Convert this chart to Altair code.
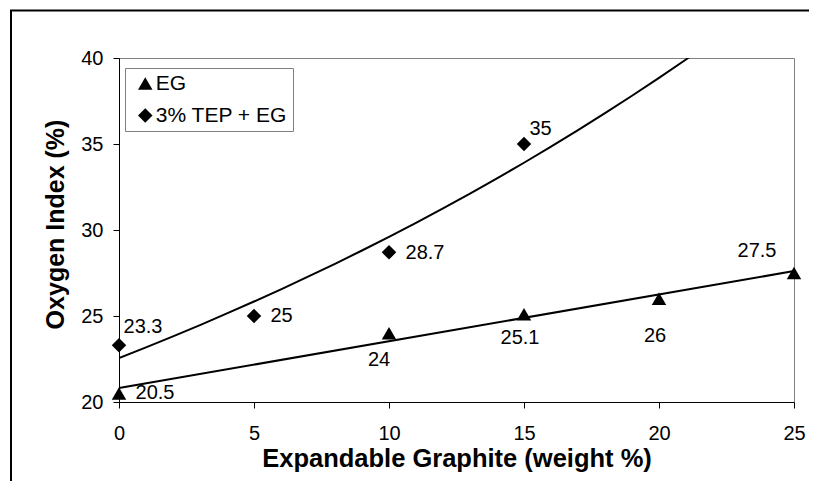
import altair as alt
import pandas as pd

# ---- data ----
SERIES = ["EG", "3% TEP + EG"]
EG_X = [0, 10, 15, 20, 25]
EG_Y = [20.5, 24, 25.1, 26, 27.5]
TEP_X = [0, 5, 10, 15]
TEP_Y = [23.3, 25, 28.7, 35]
X_TICKS = [0, 5, 10, 15, 20, 25]
Y_TICKS = [20, 25, 30, 35, 40]

# ---- label placement (pixel offsets, styling only) ----
EG_LABEL_DX = [36, -10, -4, -4, -37]
EG_LABEL_DY = [0, 27, 24, 37, -22]
TEP_LABEL_DX = [24, 27.5, 36, 16.5]
TEP_LABEL_DY = [-18, 0, 0.5, -15]

FONT = "Liberation Sans"

eg = pd.DataFrame({"x": EG_X, "y": EG_Y, "series": SERIES[0]})
tep = pd.DataFrame({"x": TEP_X, "y": TEP_Y, "series": SERIES[1]})
pts = pd.concat([eg, tep], ignore_index=True)

xscale = alt.Scale(domain=[0, 25], nice=False, zero=False)
yscale = alt.Scale(domain=[20, 40], nice=False, zero=False)

xaxis = alt.Axis(
    values=X_TICKS, title="Expandable Graphite (weight %)", grid=False,
    labelFontSize=20, labelPadding=15, tickSize=6, labelFlush=False, labelOverlap=False,
    titleFontSize=25.5, titleFontWeight="bold", titleBaseline="alphabetic", titleY=64,
    domainColor="black", tickColor="black", labelColor="black", titleColor="black",
)
yaxis = alt.Axis(
    values=Y_TICKS, title="Oxygen Index (%)", grid=False,
    labelFontSize=20, labelPadding=10, tickSize=6, labelFlush=False, labelOverlap=False,
    titleFontSize=25, titleFontWeight="bold", titleAngle=270, titleBaseline="alphabetic",
    titleAlign="center", titleX=-56, titleY=166,
    domainColor="black", tickColor="black", labelColor="black", titleColor="black",
)

X = alt.X("x:Q", scale=xscale, axis=xaxis)
Y = alt.Y("y:Q", scale=yscale, axis=yaxis)

frame = alt.Chart(pd.DataFrame({"a": [0]})).mark_rect(
    fillOpacity=0, stroke="black", strokeWidth=2
).encode(x=alt.value(-108), x2=alt.value(760), y=alt.value(-47.5), y2=alt.value(500))

# linear trend line for EG
eg_fit = alt.Chart(eg).transform_regression(
    "x", "y", extent=[0, 25]
).mark_line(color="black", strokeWidth=2).encode(x=X, y=Y)

# exponential trend line (least squares on log y) for TEP + EG
tep_fit = alt.Chart(tep).transform_calculate(
    ly="log(datum.y)"
).transform_regression(
    "x", "ly", method="poly", order=1, extent=[0, 25]
).transform_calculate(
    y="exp(datum.ly)"
).mark_line(color="black", strokeWidth=2, clip=True).encode(x=X, y=Y)

points = alt.Chart(pts).mark_point(
    filled=True, size=210, opacity=1, color="black"
).encode(
    x=X, y=Y,
    shape=alt.Shape(
        "series:N",
        scale=alt.Scale(domain=SERIES, range=["triangle-up", "diamond"]),
        legend=alt.Legend(title=None, symbolFillColor="black", symbolStrokeColor="black"),
    ),
)

texts = []
for xs, ys, dxs, dys in [(EG_X, EG_Y, EG_LABEL_DX, EG_LABEL_DY),
                         (TEP_X, TEP_Y, TEP_LABEL_DX, TEP_LABEL_DY)]:
    for xv, yv, dx, dy in zip(xs, ys, dxs, dys):
        row = pd.DataFrame({"x": [xv], "y": [yv], "label": [f"{yv:g}"]})
        texts.append(
            alt.Chart(row).mark_text(
                dx=dx, dy=dy, fontSize=20, align="center", baseline="middle", color="black"
            ).encode(x=X, y=Y, text="label:N")
        )

chart = alt.layer(frame, eg_fit, tep_fit, points, *texts).properties(
    width=675, height=344,
    padding={"left": 111, "top": 50, "right": 15, "bottom": 79},
    autosize=alt.AutoSizeParams(type="none"),
    background="white",
).configure(font=FONT).configure_view(
    stroke="#808080", strokeWidth=1
).configure_legend(
    orient="none", legendX=6, legendY=10,
    strokeColor="#808080", fillColor="white", padding=5, rowPadding=10,
    labelFontSize=21, labelColor="black", labelOffset=0, symbolOffset=4.75,
    symbolSize=210, symbolStrokeWidth=0, cornerRadius=0,
)

chart.save("out.html", embed_options={"renderer": "svg", "actions": False})
